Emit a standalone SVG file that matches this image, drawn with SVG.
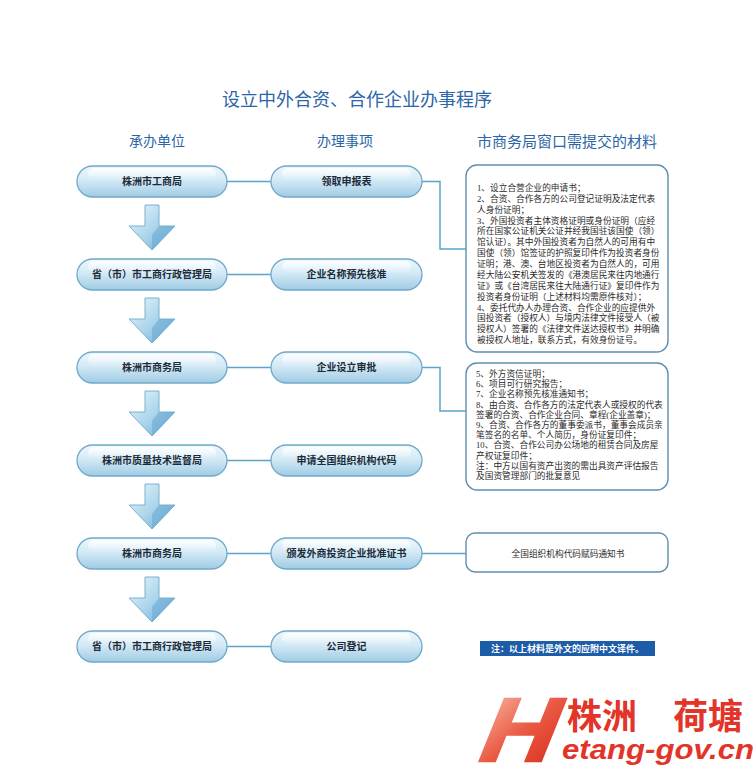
<svg xmlns="http://www.w3.org/2000/svg" width="756" height="768" viewBox="0 0 756 768">
<defs>
<linearGradient id="pillG" x1="0" y1="0" x2="0" y2="1">
<stop offset="0" stop-color="#eef7fc"/>
<stop offset="0.45" stop-color="#d4eaf6"/>
<stop offset="1" stop-color="#9fcbe4"/>
</linearGradient>
<linearGradient id="hiG" x1="0" y1="0" x2="0" y2="1">
<stop offset="0" stop-color="#ffffff" stop-opacity="0.9"/>
<stop offset="1" stop-color="#ffffff" stop-opacity="0"/>
</linearGradient>
<linearGradient id="arrG" x1="0" y1="0" x2="1" y2="1">
<stop offset="0" stop-color="#eaf5fb"/>
<stop offset="0.55" stop-color="#a9d3ea"/>
<stop offset="1" stop-color="#5fa4cf"/>
</linearGradient>
<linearGradient id="hG" x1="0" y1="0" x2="1" y2="1">
<stop offset="0" stop-color="#f7b4a0"/>
<stop offset="0.5" stop-color="#ea5a44"/>
<stop offset="1" stop-color="#d8301f"/>
</linearGradient>
<g id="arrow">
<path d="M-7,0 H7 V21 H23 L0,45 L-23,21 H-7 Z" fill="url(#arrG)" stroke="#79b1d2" stroke-width="1"/>
<path d="M0,45 L23,21 H7 V21 L0,30 Z" fill="#6aaad3" opacity="0.55"/>
</g>
</defs>
<style>
.pill{fill:url(#pillG);stroke:#6fa9ca;stroke-width:1.3}
.hi{fill:url(#hiG)}
.pt{font-family:"Noto Sans CJK SC","Liberation Sans",sans-serif;font-size:10px;font-weight:bold;fill:#1d2b38;text-anchor:middle}
.hd{font-family:"Noto Sans CJK SC","Liberation Sans",sans-serif;fill:#2c66a6;text-anchor:middle}
.box{fill:#ffffff;stroke:#5f8fb0;stroke-width:1.4}
.bt{font-family:"Liberation Serif","Noto Sans CJK SC",serif;font-size:8.7px;fill:#2a2a2a}
.cn{fill:none;stroke:#5aa5c8;stroke-width:1.5}
</style>
<rect width="756" height="768" fill="#ffffff"/>

<g id="title">
<text class="hd" x="357" y="106" font-size="18">设立中外合资、合作企业办事程序</text>
</g>
<g id="headers">
<text class="hd" x="157" y="146" font-size="14">承办单位</text>
<text class="hd" x="345" y="146" font-size="14">办理事项</text>
<text class="hd" x="567" y="147" font-size="15">市商务局窗口需提交的材料</text>
</g>

<g id="connectors">
<path class="cn" d="M227,181.5 H271"/>
<path class="cn" d="M227,274.5 H271"/>
<path class="cn" d="M227,367.5 H271"/>
<path class="cn" d="M227,460.5 H271"/>
<path class="cn" d="M227,553.5 H271"/>
<path class="cn" d="M227,646.5 H271"/>
<path class="cn" d="M422,181.5 H440 V249 H466"/>
<path class="cn" d="M422,367.5 H440 V411 H466"/>
<path class="cn" d="M422,553.5 H466"/>
<use href="#arrow" transform="translate(152,205)"/>
<use href="#arrow" transform="translate(152,298)"/>
<use href="#arrow" transform="translate(152,391)"/>
<use href="#arrow" transform="translate(152,484)"/>
<use href="#arrow" transform="translate(152,577)"/>
</g>

<g id="unit1"><rect class="pill" x="77" y="166" width="150" height="31" rx="15.5"/><rect class="hi" x="88" y="168" width="128" height="12" rx="6"/><text class="pt" x="152" y="185">株洲市工商局</text></g>
<g id="unit2"><rect class="pill" x="77" y="259" width="150" height="31" rx="15.5"/><rect class="hi" x="88" y="261" width="128" height="12" rx="6"/><text class="pt" x="152" y="278">省（市）市工商行政管理局</text></g>
<g id="unit3"><rect class="pill" x="77" y="352" width="150" height="31" rx="15.5"/><rect class="hi" x="88" y="354" width="128" height="12" rx="6"/><text class="pt" x="152" y="371">株洲市商务局</text></g>
<g id="unit4"><rect class="pill" x="77" y="445" width="150" height="31" rx="15.5"/><rect class="hi" x="88" y="447" width="128" height="12" rx="6"/><text class="pt" x="152" y="464">株洲市质量技术监督局</text></g>
<g id="unit5"><rect class="pill" x="77" y="538" width="150" height="31" rx="15.5"/><rect class="hi" x="88" y="540" width="128" height="12" rx="6"/><text class="pt" x="152" y="557">株洲市商务局</text></g>
<g id="unit6"><rect class="pill" x="77" y="631" width="150" height="31" rx="15.5"/><rect class="hi" x="88" y="633" width="128" height="12" rx="6"/><text class="pt" x="152" y="650">省（市）市工商行政管理局</text></g>

<g id="item1"><rect class="pill" x="271" y="166" width="151" height="31" rx="15.5"/><rect class="hi" x="282" y="168" width="129" height="12" rx="6"/><text class="pt" x="346.5" y="185">领取申报表</text></g>
<g id="item2"><rect class="pill" x="271" y="259" width="151" height="31" rx="15.5"/><rect class="hi" x="282" y="261" width="129" height="12" rx="6"/><text class="pt" x="346.5" y="278">企业名称预先核准</text></g>
<g id="item3"><rect class="pill" x="271" y="352" width="151" height="31" rx="15.5"/><rect class="hi" x="282" y="354" width="129" height="12" rx="6"/><text class="pt" x="346.5" y="371">企业设立审批</text></g>
<g id="item4"><rect class="pill" x="271" y="445" width="151" height="31" rx="15.5"/><rect class="hi" x="282" y="447" width="129" height="12" rx="6"/><text class="pt" x="346.5" y="464">申请全国组织机构代码</text></g>
<g id="item5"><rect class="pill" x="271" y="538" width="151" height="31" rx="15.5"/><rect class="hi" x="282" y="540" width="129" height="12" rx="6"/><text class="pt" x="346.5" y="557">颁发外商投资企业批准证书</text></g>
<g id="item6"><rect class="pill" x="271" y="631" width="151" height="31" rx="15.5"/><rect class="hi" x="282" y="633" width="129" height="12" rx="6"/><text class="pt" x="346.5" y="650">公司登记</text></g>

<g id="materials1">
<rect class="box" x="466" y="165" width="202" height="187" rx="11"/>
<text class="bt">
<tspan x="477" y="191">1、设立合营企业的申请书；</tspan>
<tspan x="477" y="201.9">2、合资、合作各方的公司登记证明及法定代表</tspan>
<tspan x="477" y="212.7">人身份证明；</tspan>
<tspan x="477" y="223.6">3、外国投资者主体资格证明或身份证明（应经</tspan>
<tspan x="477" y="234.4">所在国家公证机关公证并经我国驻该国使（领）</tspan>
<tspan x="477" y="245.3">馆认证）。其中外国投资者为自然人的可用有中</tspan>
<tspan x="477" y="256.2">国使（领）馆签证的护照复印件作为投资者身份</tspan>
<tspan x="477" y="267">证明；港、澳、台地区投资者为自然人的，可用</tspan>
<tspan x="477" y="277.9">经大陆公安机关签发的《港澳居民来往内地通行</tspan>
<tspan x="477" y="288.7">证》或《台湾居民来往大陆通行证》复印件作为</tspan>
<tspan x="477" y="299.6">投资者身份证明（上述材料均需原件核对）；</tspan>
<tspan x="477" y="310.5">4、委托代办人办理合资、合作企业的应提供外</tspan>
<tspan x="477" y="321.3">国投资者（授权人）与境内法律文件接受人（被</tspan>
<tspan x="477" y="332.2">授权人）签署的《法律文件送达授权书》并明确</tspan>
<tspan x="477" y="343">被授权人地址，联系方式，有效身份证号。</tspan>
</text>
</g>

<g id="materials2">
<rect class="box" x="466" y="363" width="202" height="127" rx="11"/>
<text class="bt">
<tspan x="476" y="377">5、外方资信证明；</tspan>
<tspan x="476" y="387.2">6、项目可行研究报告；</tspan>
<tspan x="476" y="397.4">7、企业名称预先核准通知书；</tspan>
<tspan x="476" y="407.6">8、由合资、合作各方的法定代表人或授权的代表</tspan>
<tspan x="476" y="417.8">签署的合资、合作企业合同、章程(企业盖章)；</tspan>
<tspan x="476" y="428">9、合资、合作各方的董事委派书，董事会成员亲</tspan>
<tspan x="476" y="438.2">笔签名的名单、个人简历，身份证复印件；</tspan>
<tspan x="476" y="448.4">10、合资、合作公司办公场地的租赁合同及房屋</tspan>
<tspan x="476" y="458.6">产权证复印件；</tspan>
<tspan x="476" y="468.8">注：中方以国有资产出资的需出具资产评估报告</tspan>
<tspan x="476" y="479">及国资管理部门的批复意见</tspan>
</text>
</g>

<g id="materials3">
<rect class="box" x="466" y="533" width="202" height="39" rx="9"/>
<text class="bt" x="568" y="557" text-anchor="middle">全国组织机构代码赋码通知书</text>
</g>

<g id="note">
<rect x="480" y="641" width="175" height="15" fill="#1c5ca8"/>
<text x="567.5" y="652" font-family="Noto Sans CJK SC,Liberation Sans,sans-serif" font-size="9" font-weight="bold" fill="#ffffff" text-anchor="middle">注：以上材料是外文的应附中文译件。</text>
</g>

<g id="logo">
<text font-family="Liberation Sans,sans-serif" font-weight="bold" font-size="90" fill="url(#hG)" stroke="url(#hG)" stroke-width="2.5" transform="translate(473,761) skewX(-22) scale(1.15,1)">H</text>
<text font-family="Noto Sans CJK SC,sans-serif" font-weight="bold" font-size="35" fill="#e3342a"><tspan x="567" y="729">株洲</tspan><tspan x="673" y="729">荷塘</tspan></text>
<text x="562" y="759" font-family="Liberation Sans,sans-serif" font-weight="bold" font-style="italic" font-size="28" fill="#e3342a" textLength="192" lengthAdjust="spacingAndGlyphs">etang-gov.cn</text>
</g>
</svg>
